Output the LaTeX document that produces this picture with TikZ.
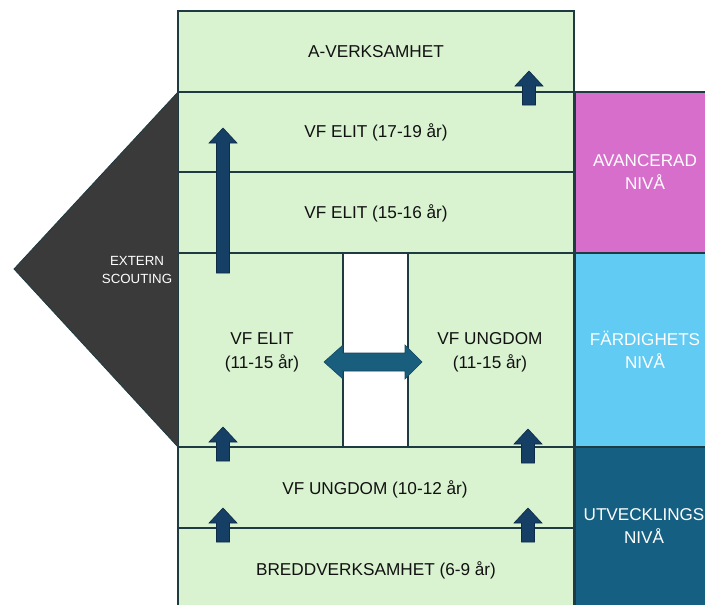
\documentclass[tikz,border=0pt]{standalone}
\usepackage{fontspec}
\setmainfont{Liberation Sans}
\begin{document}
\begin{tikzpicture}[x=1pt,y=-1pt,
  band/.style={draw=bordc,line width=1.3pt,fill=greenf},
  lvl/.style={draw=bordc,line width=1.3pt},
  lab/.style={font=\fontsize{17.2}{24}\selectfont,text=txtc,align=center,inner sep=0pt},
  wlab/.style={font=\fontsize{17.1}{23}\selectfont,text=white,align=center,inner sep=0pt},
  upar/.style={fill=navy,draw=navyd,line width=0.6pt},
  dbar/.style={fill=teal1,draw=teald,line width=0.6pt}]
\definecolor{greenf}{HTML}{D9F2D0}
\definecolor{bordc}{HTML}{1E3B42}
\definecolor{txtc}{HTML}{111111}
\definecolor{navy}{HTML}{163F66}
\definecolor{navyd}{HTML}{0E2B48}
\definecolor{teal1}{HTML}{1A5E7E}
\definecolor{teald}{HTML}{124760}
\definecolor{magf}{HTML}{D86ECC}
\definecolor{bluef}{HTML}{61CBF3}
\definecolor{tealf}{HTML}{156082}
\definecolor{darkf}{HTML}{3A3A3A}
\useasboundingbox (0,0) rectangle (705,605);
% green bands
\draw[band] (178,11) rectangle (574,92);
\draw[band] (178,92) rectangle (574,172);
\draw[band] (178,172) rectangle (574,253);
\draw[band] (178,253) rectangle (574,447);
\draw[band] (178,447) rectangle (574,528);
\draw[band] (178,528) rectangle (574,612);
% white gap
\draw[draw=bordc,line width=1.3pt,fill=white] (343,253) rectangle (408,447);
% external scouting triangle
\fill[darkf] (178,92) -- (14,269) -- (178,447) -- cycle;
\draw[bordc,line width=0.8pt] (178,92) -- (14,269) -- (178,447);
% level blocks
\draw[lvl,fill=magf] (575,92) rectangle (708,253);
\draw[lvl,fill=bluef] (575,253) rectangle (708,447);
\draw[lvl,fill=tealf] (575,447) rectangle (708,612);
% up arrows
\foreach \x/\t/\b in {529/71/105, 223/128/273, 223/427/461, 528/429/463, 223/508/542, 528/508/542}{
  \draw[upar] (\x,\t) -- (\x+14,\t+15) -- (\x+6.5,\t+15) -- (\x+6.5,\b) -- (\x-6.5,\b) -- (\x-6.5,\t+15) -- (\x-14,\t+15) -- cycle;
}
% double arrow
\draw[dbar] (324,362) -- (343,345) -- (343,353) -- (405,353) -- (405,345) -- (422,362) -- (405,379) -- (405,371) -- (343,371) -- (343,379) -- cycle;
% labels
\node[lab] (a) at (376,52) {A-VERKSAMHET};
\node[lab] (e1) at (376,132) {VF ELIT (17-19 år)};
\node[lab] (e2) at (376,213) {VF ELIT (15-16 år)};
\node[lab] (e3) at (262,352) {VF ELIT\\(11-15 år)};
\node[lab] (u3) at (490,352) {VF UNGDOM\\(11-15 år)};
\node[lab] (u2) at (375,489) {VF UNGDOM (10-12 år)};
\node[lab] (b) at (376,570) {BREDDVERKSAMHET (6-9 år)};
\node[font=\fontsize{13.3}{18}\selectfont,text=white,align=center,inner sep=0pt] (ex) at (137,270) {EXTERN\\SCOUTING};
\node[wlab] (av) at (645,172) {AVANCERAD\\NIVÅ};
\node[wlab] (fa) at (645,350) {FÄRDIGHETS\\NIVÅ};
\node[wlab] (ut) at (644,526) {UTVECKLINGS\\NIVÅ};
\end{tikzpicture}
\end{document}
